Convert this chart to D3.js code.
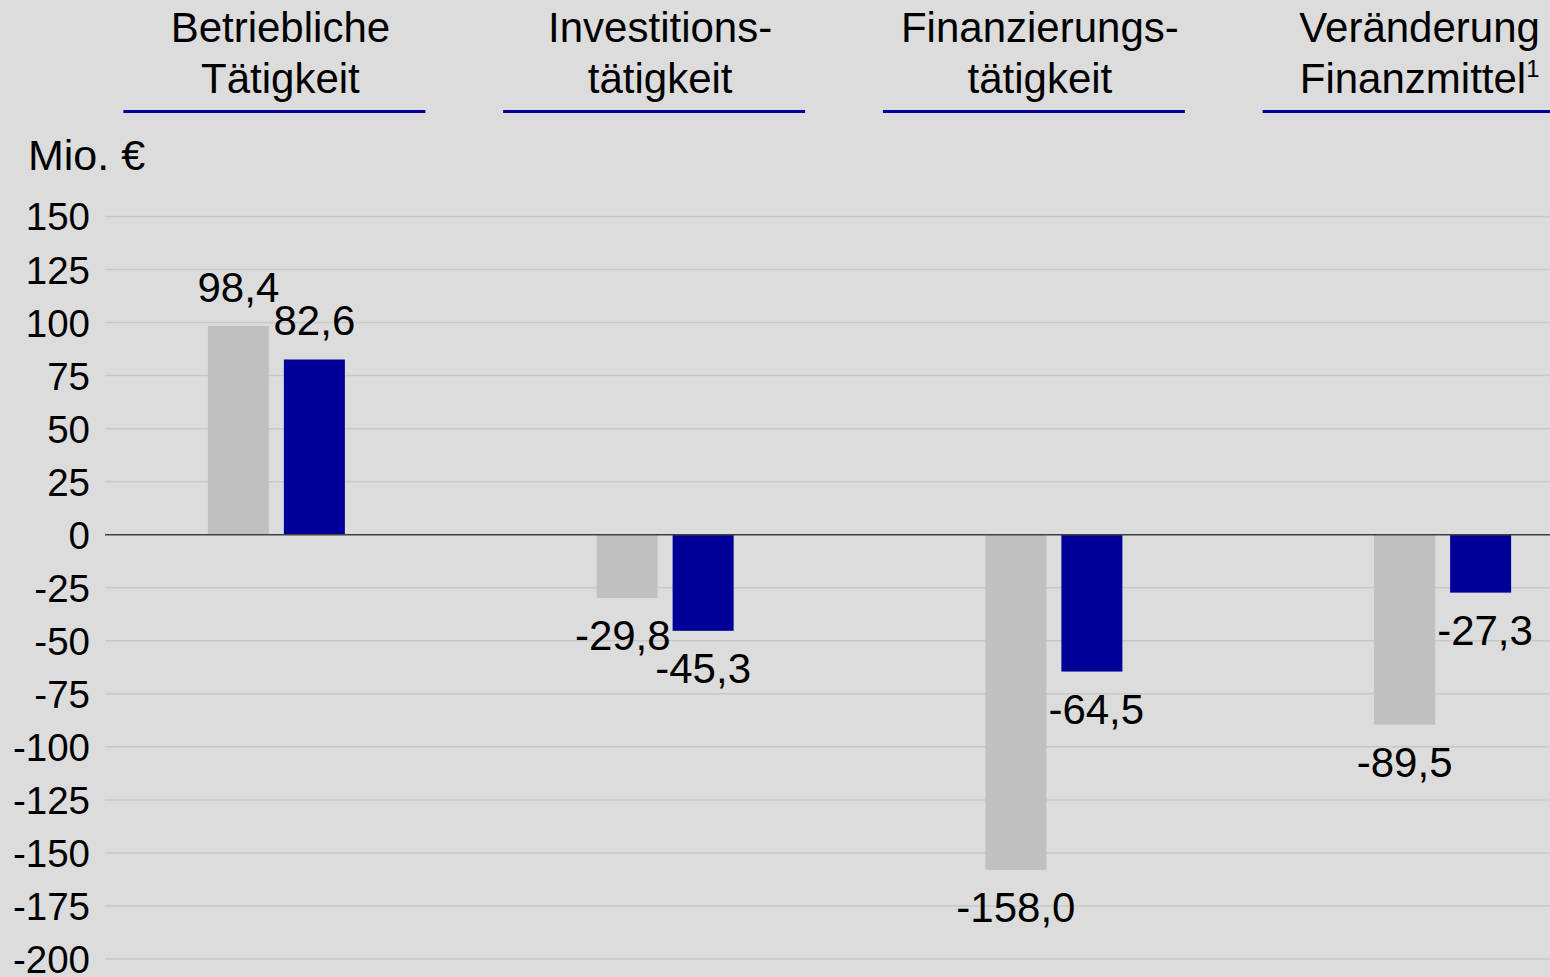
<!DOCTYPE html>
<html>
<head>
<meta charset="utf-8">
<script src="https://cdn.jsdelivr.net/npm/d3@7"></script>
<style>
    html, body { margin: 0; padding: 0; background: #dcdcdc; }
    svg { display: block; font-family: Arial, "Liberation Sans", sans-serif; }
</style>
</head>
<body>
<div class="vis-barchart"></div>
<script>
// Data
const categories = ["betrieb", "invest", "finanz", "veraend"];
const headerLines = [
    ["Betriebliche", "Tätigkeit"],
    ["Investitions-", "tätigkeit"],
    ["Finanzierungs-", "tätigkeit"],
    ["Veränderung", "Finanzmittel"]
];
const headerNotes = ["", "", "", "1"];
const seriesKeys = ["prev", "curr"];
const prevValues = [98.4, -29.8, -158.0, -89.5];
const currValues = [82.6, -45.3, -64.5, -27.3];
const yTicks = [150, 125, 100, 75, 50, 25, 0, -25, -50, -75, -100, -125, -150, -175, -200];
const unitLabel = "Mio. €";

const width = 1550;
const height = 977;
const gridLeft = 105;

const colors = { prev: "#c0c0c0", curr: "#000099" };

const svg = d3.select(".vis-barchart")
    .append("svg")
    .attr("width", width)
    .attr("height", height);

svg.append("rect")
    .attr("width", width)
    .attr("height", height)
    .attr("fill", "#dcdcdc");

// Scales
const y = d3.scaleLinear()
    .domain([-200, 150])
    .range([959, 216.5]);

const x0 = d3.scaleBand()
    .domain(categories)
    .range([82, 1637]);

const x1 = d3.scaleBand()
    .domain(seriesKeys)
    .range([-68.5, 68.5])
    .paddingInner(0.197);

const xHead = d3.scaleBand()
    .domain(categories)
    .range([90.5, 1609.5]);

const de = d3.formatLocale({ decimal: ",", thousands: ".", grouping: [3], currency: ["", " €"], minus: "-" });
const fmt = de.format(".1f");

// Gridlines
svg.append("g")
    .attr("class", "grid")
    .selectAll("line")
    .data(yTicks.filter(d => d !== 0))
    .enter()
    .append("line")
    .attr("x1", gridLeft)
    .attr("x2", width)
    .attr("y1", d => y(d))
    .attr("y2", d => y(d))
    .attr("stroke", "#c8c8c8")
    .attr("stroke-width", 1.5);

// Y axis labels
const yAxis = svg.append("g")
    .attr("class", "y axis")
    .attr("transform", "translate(" + gridLeft + ",0)")
    .call(d3.axisLeft(y).tickValues(yTicks).tickSize(0).tickPadding(15).tickFormat(d => String(d)));
yAxis.select(".domain").remove();
yAxis.selectAll("text")
    .attr("fill", "#000")
    .attr("dy", "0.35em")
    .style("font-size", "38.5px");

// Bars
const rows = categories.map((c, i) => ({ cat: c, prev: prevValues[i], curr: currValues[i] }));

const groups = svg.selectAll(".group")
    .data(rows)
    .enter()
    .append("g")
    .attr("class", "group")
    .attr("transform", d => "translate(" + (x0(d.cat) + x0.bandwidth() / 2) + ",0)");

const bars = groups.selectAll("g.bar")
    .data(d => seriesKeys.map((k, i) => ({
        key: k,
        value: d[k],
        other: d[seriesKeys[1 - i]],
        otherKey: seriesKeys[1 - i]
    })))
    .enter()
    .append("g")
    .attr("class", "bar");

bars.append("rect")
    .attr("x", d => x1(d.key))
    .attr("width", x1.bandwidth())
    .attr("y", d => y(Math.max(0, d.value)))
    .attr("height", d => Math.abs(y(d.value) - y(0)))
    .attr("fill", d => colors[d.key]);

const labelSize = 42;
bars.append("text")
    .attr("x", d => x1(d.key) + x1.bandwidth() / 2)
    .attr("y", d => d.value >= 0 ? y(d.value) - 24 : y(d.value) + 52)
    .attr("text-anchor", "middle")
    .style("font-size", labelSize + "px")
    .attr("fill", "#000")
    .text(d => fmt(d.value))
    .each(function (d) {
        // push label sideways if it runs into the neighbouring bar
        const t = d3.select(this);
        const w = this.getComputedTextLength();
        const cx = +t.attr("x");
        const base = +t.attr("y");
        const top = base - labelSize * 0.72;
        const oy0 = Math.min(y(0), y(d.other));
        const oy1 = Math.max(y(0), y(d.other));
        if (top > oy1 || base < oy0) return;
        const ox0 = x1(d.otherKey);
        const ox1 = ox0 + x1.bandwidth();
        if (ox0 > cx && cx + w / 2 > ox0 - 2) t.attr("x", ox0 - 2 - w / 2);
        if (ox1 < cx && cx - w / 2 < ox1 + 2) t.attr("x", ox1 + 2 + w / 2);
    });

// Zero line
svg.append("line")
    .attr("x1", gridLeft)
    .attr("x2", width)
    .attr("y1", y(0))
    .attr("y2", y(0))
    .attr("stroke", "#404040")
    .attr("stroke-width", 1.5);

// Headers
const heads = svg.selectAll(".head")
    .data(categories)
    .enter()
    .append("g")
    .attr("class", "head")
    .attr("transform", d => "translate(" + (xHead(d) + xHead.bandwidth() / 2) + ",0)");

heads.each(function (d, i) {
    const g = d3.select(this);
    headerLines[i].forEach((line, j) => {
        const t = g.append("text")
            .attr("x", 0)
            .attr("y", 42 + j * 51)
            .attr("text-anchor", "middle")
            .style("font-size", "42px")
            .attr("fill", "#000")
            .text(line);
        if (j === headerLines[i].length - 1 && headerNotes[i]) {
            t.append("tspan")
                .attr("dy", -16)
                .style("font-size", "24px")
                .text(headerNotes[i]);
        }
    });
    g.append("rect")
        .attr("x", -157)
        .attr("y", 110)
        .attr("width", 302)
        .attr("height", 3)
        .attr("fill", "#000099");
});

// Unit label
svg.append("text")
    .attr("x", 28)
    .attr("y", 170)
    .style("font-size", "43px")
    .attr("fill", "#000")
    .text(unitLabel);
</script>
</body>
</html>
